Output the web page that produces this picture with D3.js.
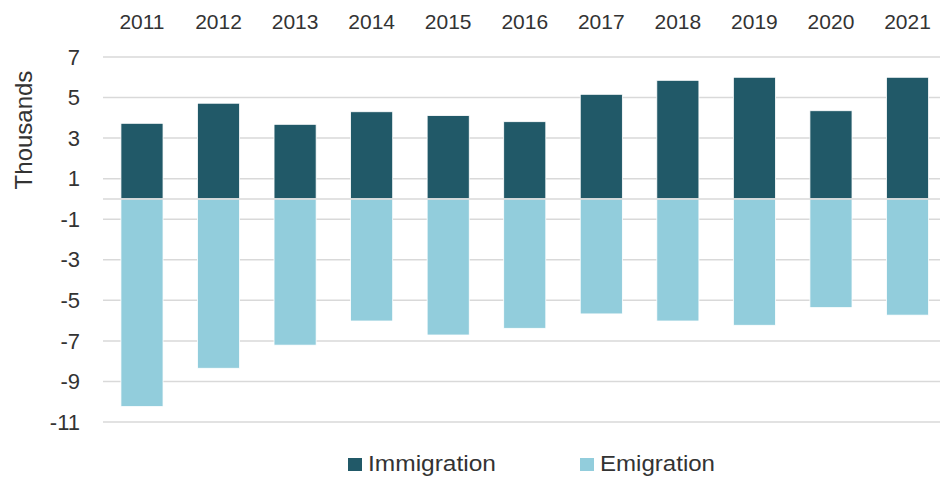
<!DOCTYPE html>
<html>
<head>
  <meta charset="UTF-8">
  <title>Immigration and Emigration 2011-2021</title>
  <style>
    body { margin: 0; background: #ffffff; }
    svg { display: block; font-family: "Liberation Sans", Arial, sans-serif; }
  </style>
</head>
<body>
<svg></svg>
<script src="https://d3js.org/d3.v7.min.js"></script>
<script>

// data, in thousands
let years = ["2011","2012","2013","2014","2015","2016","2017","2018","2019","2020","2021"];
let immigration = [3.73, 4.72, 3.68, 4.30, 4.11, 3.81, 5.16, 5.85, 6.00, 4.35, 6.00];
let emigration = [-10.24, -8.35, -7.21, -6.02, -6.71, -6.38, -5.67, -6.02, -6.23, -5.36, -5.73];
let yTicks = [7, 5, 3, 1, -1, -3, -5, -7, -9, -11];
let seriesNames = ["Immigration", "Emigration"];
let colors = ["#215968", "#92CDDC"];

let width = 940, height = 477;

let svg = d3.select("svg")
    .attr("width", width)
    .attr("height", height)
    .attr("viewBox", "0 0 " + width + " " + height);

let x = d3.scaleBand()
    .domain(years)
    .range([103.7, 945.8])
    .paddingInner(0.45)
    .paddingOuter(0.225);

let y = d3.scaleLinear()
    .domain([-11, 7])
    .range([422, 57]);

// gridlines
svg.append("g")
    .selectAll("line")
    .data(yTicks)
    .enter()
    .append("line")
      .attr("x1", 103)
      .attr("x2", width)
      .attr("y1", d => y(d))
      .attr("y2", d => y(d))
      .attr("stroke", "#d9d9d9")
      .attr("stroke-width", 1.5);

// y tick labels
svg.append("g")
    .selectAll("text")
    .data(yTicks)
    .enter()
    .append("text")
      .attr("x", 80)
      .attr("y", d => y(d))
      .attr("dy", "0.35em")
      .attr("text-anchor", "end")
      .style("font-size", "22px")
      .style("fill", "#333333")
      .text(d => d);

// axis title
svg.append("text")
    .attr("transform", "translate(32,130) rotate(-90)")
    .attr("text-anchor", "middle")
    .style("font-size", "24px")
    .style("fill", "#333333")
    .text("Thousands");

// bars
let series = [immigration, emigration];
series.forEach((vals, s) => {
  svg.append("g")
    .selectAll("rect")
    .data(vals)
    .enter()
    .append("rect")
      .attr("x", (d, i) => x(years[i]))
      .attr("width", x.bandwidth())
      .attr("y", d => y(Math.max(0, d)))
      .attr("height", d => Math.abs(y(d) - y(0)))
      .attr("fill", colors[s])
      .attr("stroke", "#ffffff")
      .attr("stroke-width", 0.8);
});

// zero line
svg.append("line")
    .attr("x1", 103)
    .attr("x2", width)
    .attr("y1", y(0))
    .attr("y2", y(0))
    .attr("stroke", "#d9d9d9")
    .attr("stroke-width", 1.5);

// year labels on top
svg.append("g")
    .selectAll("text")
    .data(years)
    .enter()
    .append("text")
      .attr("x", d => x(d) + x.bandwidth() / 2)
      .attr("y", 29)
      .attr("text-anchor", "middle")
      .style("font-size", "21px")
      .style("fill", "#333333")
      .text(d => d);

// legend
let legendX = [348, 580];
let legendW = [128, 115];
seriesNames.forEach((name, i) => {
  svg.append("rect")
    .attr("x", legendX[i])
    .attr("y", 458)
    .attr("width", 14)
    .attr("height", 13)
    .attr("fill", colors[i]);
  svg.append("text")
    .attr("x", legendX[i] + 20)
    .attr("y", 471)
    .attr("textLength", legendW[i])
    .attr("lengthAdjust", "spacingAndGlyphs")
    .style("font-size", "22.5px")
    .style("fill", "#333333")
    .text(name);
});

</script>
</body>
</html>
